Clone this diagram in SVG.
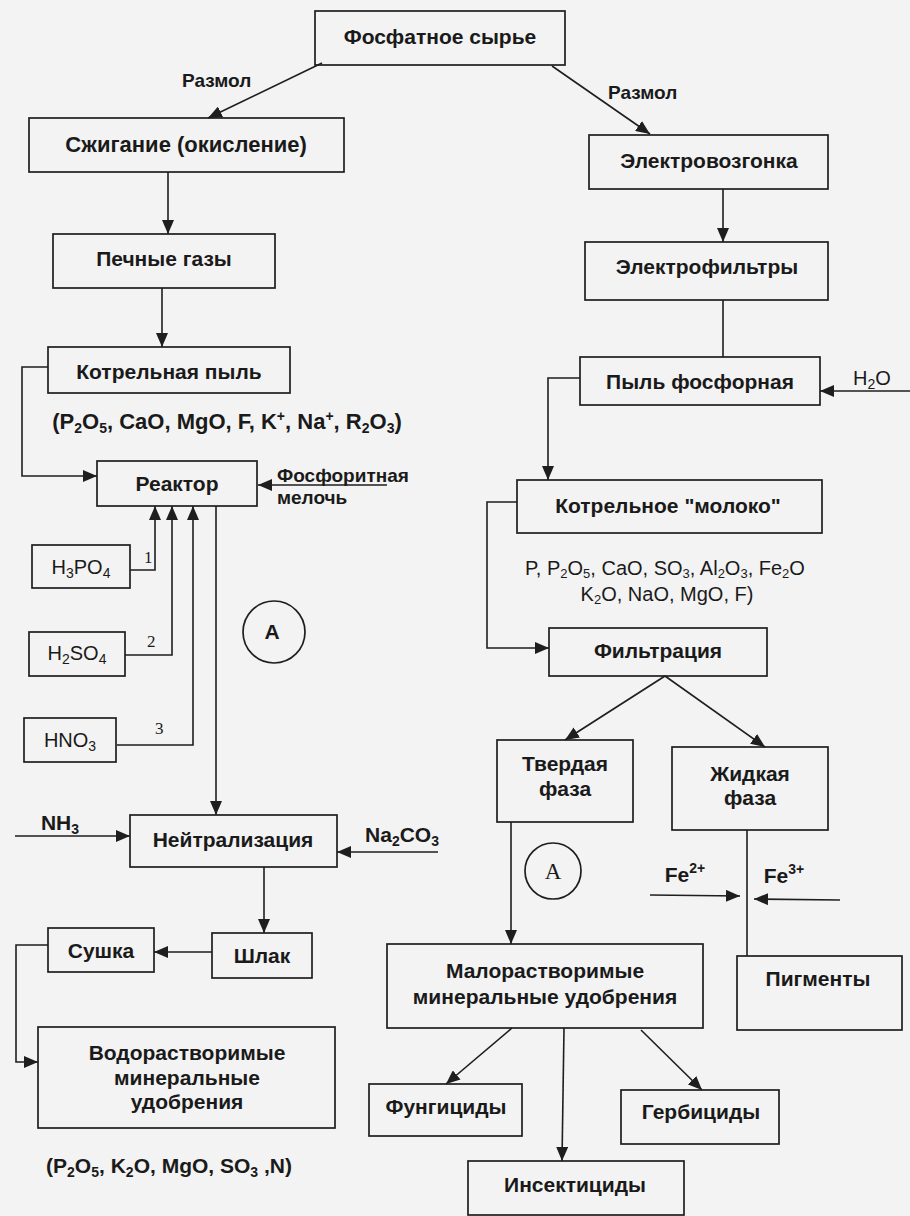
<svg xmlns="http://www.w3.org/2000/svg" width="910" height="1216" viewBox="0 0 910 1216">
<style>
.bx{fill:none;stroke:#1e1e1e;stroke-width:1.7}
.ln{fill:none;stroke:#1e1e1e;stroke-width:1.6}
.ar{fill:none;stroke:#1e1e1e;stroke-width:1.6;marker-end:url(#ah)}
text{font-family:"Liberation Sans",Arial,sans-serif;fill:#1a1a1a}
.lb{font-weight:bold;font-size:21px;text-anchor:middle}
.sm{font-weight:bold;font-size:19px}
.rg{font-weight:normal;font-size:20px}
.sr{font-family:"Liberation Serif","Times New Roman",serif;font-size:17px}
.sb{font-size:14px}
.sb2{font-size:13px}
</style>
<defs>
<marker id="ah" viewBox="0 0 14 12" refX="14" refY="6" markerWidth="14" markerHeight="12" markerUnits="userSpaceOnUse" orient="auto">
<path d="M0,0 L14,6 L0,12 z" fill="#1e1e1e"/>
</marker>
</defs>
<rect x="0" y="0" width="910" height="1216" fill="#f3f3f3"/>

<g id="connectors">
<line class="ar" x1="322" y1="63" x2="208" y2="118"/>
<line class="ar" x1="552" y1="66" x2="650" y2="134"/>
<line class="ar" x1="168" y1="172" x2="168" y2="234"/>
<line class="ar" x1="162" y1="288" x2="162" y2="347"/>
<polyline class="ar" points="48,367 22,367 22,476 97,476"/>
<line class="ar" x1="387" y1="485" x2="258" y2="485"/>
<polyline class="ar" points="130,570 155,570 155,506"/>
<polyline class="ar" points="125,655 172,655 172,506"/>
<polyline class="ar" points="117,745 193,745 193,506"/>
<line class="ar" x1="216" y1="506" x2="216" y2="815"/>
<line class="ar" x1="15" y1="836" x2="130" y2="836"/>
<line class="ar" x1="438" y1="852" x2="337" y2="852"/>
<line class="ar" x1="264" y1="867" x2="264" y2="933"/>
<line class="ar" x1="212" y1="952" x2="154" y2="952"/>
<polyline class="ar" points="48,945 16,945 16,1062 38,1062"/>
<line class="ar" x1="723" y1="189" x2="723" y2="242"/>
<line class="ln" x1="723" y1="300" x2="723" y2="357"/>
<line class="ar" x1="910" y1="391" x2="820" y2="391"/>
<polyline class="ar" points="580,378 548,378 548,480"/>
<polyline class="ar" points="517,502 487,502 487,648 549,648"/>
<line class="ar" x1="665" y1="676" x2="565" y2="740"/>
<line class="ar" x1="665" y1="676" x2="765" y2="747"/>
<line class="ar" x1="511" y1="822" x2="511" y2="944"/>
<line class="ln" x1="747" y1="830" x2="747" y2="956"/>
<line class="ar" x1="650" y1="895" x2="740" y2="896"/>
<line class="ar" x1="840" y1="900" x2="754" y2="899"/>
<line class="ar" x1="512" y1="1028" x2="446" y2="1084"/>
<line class="ar" x1="564" y1="1028" x2="562" y2="1161"/>
<line class="ar" x1="641" y1="1030" x2="702" y2="1090"/>
</g>

<g id="n-fosfat"><rect class="bx" x="315" y="11" width="250" height="54"/><text class="lb" x="440" y="44">Фосфатное сырье</text></g>
<g id="l-razmol1"><text class="sm" x="182" y="87">Размол</text></g>
<g id="l-razmol2"><text class="sm" x="608" y="99">Размол</text></g>
<g id="n-szhig"><rect class="bx" x="29" y="118" width="315" height="54"/><text class="lb" x="186" y="152" style="font-size:22px">Сжигание (окисление)</text></g>
<g id="n-pech"><rect class="bx" x="53" y="234" width="222" height="54"/><text class="lb" x="164" y="266">Печные газы</text></g>
<g id="n-kotpyl"><rect class="bx" x="48" y="347" width="242" height="46"/><text class="lb" x="169" y="379">Котрельная пыль</text></g>
<g id="l-f1"><text class="lb" x="227" y="429" style="font-size:22px">(P<tspan class="sb" dy="4">2</tspan><tspan dy="-4">O</tspan><tspan class="sb" dy="4">5</tspan><tspan dy="-4">, CaO, MgO, F, K</tspan><tspan class="sb" dy="-8">+</tspan><tspan dy="8">, Na</tspan><tspan class="sb" dy="-8">+</tspan><tspan dy="8">, R</tspan><tspan class="sb" dy="4">2</tspan><tspan dy="-4">O</tspan><tspan class="sb" dy="4">3</tspan><tspan dy="-4">)</tspan></text></g>
<g id="n-reaktor"><rect class="bx" x="97" y="461" width="160" height="45"/><text class="lb" x="177" y="491">Реактор</text></g>
<g id="l-meloch"><text class="sm" x="277" y="482">Фосфоритная</text><text class="sm" x="277" y="504">мелочь</text></g>
<g id="n-h3po4"><rect class="bx" x="32" y="545" width="98" height="43"/><text class="rg" x="81" y="574" text-anchor="middle">H<tspan class="sb" dy="4">3</tspan><tspan dy="-4">PO</tspan><tspan class="sb" dy="4">4</tspan></text></g>
<g id="n-h2so4"><rect class="bx" x="29" y="632" width="96" height="44"/><text class="rg" x="77" y="660" text-anchor="middle">H<tspan class="sb" dy="4">2</tspan><tspan dy="-4">SO</tspan><tspan class="sb" dy="4">4</tspan></text></g>
<g id="n-hno3"><rect class="bx" x="24" y="718" width="92" height="44"/><text class="rg" x="70" y="747" text-anchor="middle">HNO<tspan class="sb" dy="4">3</tspan></text></g>
<g id="l-nums"><text class="sr" x="144" y="563">1</text><text class="sr" x="147" y="647">2</text><text class="sr" x="155" y="734">3</text></g>
<g id="n-a1"><circle class="bx" cx="274" cy="632" r="31"/><text class="lb" x="272" y="639">A</text></g>
<g id="n-neitr"><rect class="bx" x="130" y="815" width="207" height="52"/><text class="lb" x="233" y="847">Нейтрализация</text></g>
<g id="l-nh3"><text class="lb" x="60" y="830">NH<tspan class="sb" dy="4">3</tspan></text></g>
<g id="l-na2co3"><text class="lb" x="402" y="842">Na<tspan class="sb" dy="4">2</tspan><tspan dy="-4">CO</tspan><tspan class="sb" dy="4">3</tspan></text></g>
<g id="n-shlak"><rect class="bx" x="212" y="933" width="100" height="45"/><text class="lb" x="262" y="963">Шлак</text></g>
<g id="n-sushka"><rect class="bx" x="48" y="928" width="106" height="44"/><text class="lb" x="101" y="958">Сушка</text></g>
<g id="n-vodor"><rect class="bx" x="38" y="1027" width="297" height="101"/><text class="lb" x="187" y="1060">Водорастворимые</text><text class="lb" x="187" y="1085">минеральные</text><text class="lb" x="187" y="1109">удобрения</text></g>
<g id="l-f3"><text class="lb" x="169" y="1173">(P<tspan class="sb" dy="4">2</tspan><tspan dy="-4">O</tspan><tspan class="sb" dy="4">5</tspan><tspan dy="-4">, K</tspan><tspan class="sb" dy="4">2</tspan><tspan dy="-4">O, MgO, SO</tspan><tspan class="sb" dy="4">3</tspan><tspan dy="-4"> ,N)</tspan></text></g>

<g id="n-elvoz"><rect class="bx" x="589" y="135" width="239" height="54"/><text class="lb" x="709" y="168">Электровозгонка</text></g>
<g id="n-elfil"><rect class="bx" x="585" y="242" width="243" height="58"/><text class="lb" x="707" y="274">Электрофильтры</text></g>
<g id="n-pylfos"><rect class="bx" x="580" y="357" width="240" height="48"/><text class="lb" x="700" y="389">Пыль фосфорная</text></g>
<g id="l-h2o"><text class="rg" x="872" y="385" text-anchor="middle">H<tspan class="sb" dy="4">2</tspan><tspan dy="-4">O</tspan></text></g>
<g id="n-moloko"><rect class="bx" x="517" y="480" width="305" height="53"/><text class="lb" x="668" y="513">Котрельное "молоко"</text></g>
<g id="l-f2"><text class="rg" x="665" y="575" text-anchor="middle">P, P<tspan class="sb2" dy="3">2</tspan><tspan dy="-3">O</tspan><tspan class="sb2" dy="3">5</tspan><tspan dy="-3">, CaO, SO</tspan><tspan class="sb2" dy="3">3</tspan><tspan dy="-3">, Al</tspan><tspan class="sb2" dy="3">2</tspan><tspan dy="-3">O</tspan><tspan class="sb2" dy="3">3</tspan><tspan dy="-3">, Fe</tspan><tspan class="sb2" dy="3">2</tspan><tspan dy="-3">O</tspan></text><text class="rg" x="667" y="601" text-anchor="middle">K<tspan class="sb2" dy="3">2</tspan><tspan dy="-3">O, NaO, MgO, F)</tspan></text></g>
<g id="n-filtr"><rect class="bx" x="549" y="628" width="218" height="48"/><text class="lb" x="658" y="658">Фильтрация</text></g>
<g id="n-tverd"><rect class="bx" x="497" y="740" width="136" height="82"/><text class="lb" x="565" y="771">Твердая</text><text class="lb" x="565" y="796">фаза</text></g>
<g id="n-zhidk"><rect class="bx" x="672" y="747" width="156" height="83"/><text class="lb" x="750" y="781">Жидкая</text><text class="lb" x="750" y="805">фаза</text></g>
<g id="n-a2"><circle class="bx" cx="553" cy="871" r="28"/><text x="553" y="879" text-anchor="middle" style="font-family:'Liberation Serif','Times New Roman',serif;font-size:23px">A</text></g>
<g id="l-fe"><text class="lb" x="685" y="882">Fe<tspan class="sb" dy="-9">2+</tspan></text><text class="lb" x="784" y="883">Fe<tspan class="sb" dy="-9">3+</tspan></text></g>
<g id="n-malor"><rect class="bx" x="387" y="944" width="316" height="84"/><text class="lb" x="545" y="978">Малорастворимые</text><text class="lb" x="545" y="1004">минеральные удобрения</text></g>
<g id="n-pigm"><rect class="bx" x="737" y="956" width="165" height="74"/><text class="lb" x="818" y="986">Пигменты</text></g>
<g id="n-fung"><rect class="bx" x="369" y="1084" width="153" height="52"/><text class="lb" x="446" y="1114">Фунгициды</text></g>
<g id="n-gerb"><rect class="bx" x="621" y="1090" width="158" height="54"/><text class="lb" x="701" y="1119">Гербициды</text></g>
<g id="n-insek"><rect class="bx" x="468" y="1161" width="216" height="54"/><text class="lb" x="575" y="1192">Инсектициды</text></g>
</svg>
